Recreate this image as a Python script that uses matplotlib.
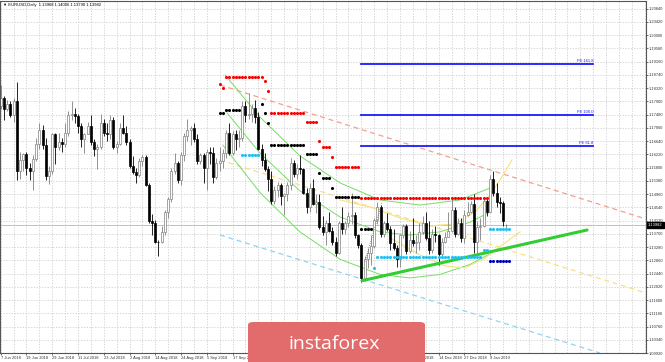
import matplotlib
matplotlib.use('Agg')
import matplotlib.pyplot as plt
from matplotlib.patches import FancyBboxPatch

# EURUSD daily bars, 7 Jun 2018 .. 16 Jan 2019
opens = [1.1775, 1.1800, 1.1767, 1.1780, 1.1745, 1.1790, 1.1569, 1.1605, 1.1623, 1.1580, 1.1570, 1.1606, 1.1654, 1.1700, 1.1650, 1.1553, 1.1570,
         1.1685, 1.1645, 1.1660, 1.1655, 1.1690, 1.1745, 1.1750, 1.1743, 1.1710, 1.1670, 1.1685, 1.1713, 1.1660, 1.1640, 1.1645, 1.1720, 1.1690, 1.1685, 1.1730, 1.1645, 1.1655, 1.1705,
         1.1690, 1.1660, 1.1585, 1.1565, 1.1555, 1.1600, 1.1612, 1.1525, 1.1410, 1.1405, 1.1345, 1.1343, 1.1375, 1.1440, 1.1480, 1.1570, 1.1595, 1.1540, 1.1620, 1.1680, 1.1700, 1.1705, 1.1670,
         1.1600, 1.1620, 1.1580, 1.1630, 1.1625, 1.1550, 1.1595, 1.1600, 1.1625, 1.1690, 1.1625, 1.1685, 1.1670, 1.1675, 1.1775, 1.1745, 1.1750, 1.1770, 1.1740, 1.1640,
         1.1605, 1.1575, 1.1545, 1.1475, 1.1510, 1.1525, 1.1490, 1.1495, 1.1525, 1.1595, 1.1560, 1.1580, 1.1575, 1.1500, 1.1455, 1.1515, 1.1465, 1.1470, 1.1390, 1.1375, 1.1405, 1.1380, 1.1345,
         1.1310, 1.1405, 1.1385, 1.1405, 1.1425, 1.1430, 1.1365, 1.1335, 1.1230, 1.1290, 1.1310, 1.1330, 1.1415, 1.1455, 1.1370, 1.1405, 1.1385, 1.1340, 1.1325, 1.1290, 1.1365, 1.1395,
         1.1315, 1.1350, 1.1340, 1.1345, 1.1375, 1.1405, 1.1355, 1.1320, 1.1370, 1.1365, 1.1305, 1.1345, 1.1360, 1.1380, 1.1445, 1.1370, 1.1405, 1.1355, 1.1430, 1.1440,
         1.1465, 1.1345, 1.1390, 1.1395, 1.1475, 1.1440, 1.1545, 1.1500, 1.1470, 1.1468, 1.13968]
highs = [1.1840, 1.1807, 1.1795, 1.1790, 1.1800, 1.1852, 1.1628, 1.1625, 1.1628, 1.1595, 1.1620, 1.1675, 1.1720, 1.1715, 1.1672, 1.1585, 1.1690,
         1.1690, 1.1690, 1.1675, 1.1720, 1.1760, 1.1790, 1.1770, 1.1750, 1.1720, 1.1690, 1.1725, 1.1745, 1.1670, 1.1655, 1.1750, 1.1735, 1.1720, 1.1745, 1.1740, 1.1665, 1.1720, 1.1746,
         1.1710, 1.1670, 1.1615, 1.1580, 1.1610, 1.1620, 1.1620, 1.1530, 1.1432, 1.1415, 1.1350, 1.1395, 1.1445, 1.1485, 1.1580, 1.1625, 1.1600, 1.1630, 1.1690, 1.1735, 1.1710, 1.1720, 1.1685,
         1.1625, 1.1625, 1.1640, 1.1645, 1.1645, 1.1610, 1.1645, 1.1640, 1.1700, 1.1720, 1.1695, 1.1700, 1.1700, 1.1790, 1.1790, 1.1815, 1.1780, 1.1795, 1.1755, 1.1655,
         1.1625, 1.1585, 1.1570, 1.1520, 1.1535, 1.1530, 1.1500, 1.1535, 1.1610, 1.1605, 1.1590, 1.1620, 1.1580, 1.1515, 1.1530, 1.1545, 1.1495, 1.1495, 1.1425, 1.1415, 1.1440, 1.1390, 1.1360,
         1.1410, 1.1455, 1.1410, 1.1440, 1.1500, 1.1440, 1.1370, 1.1340, 1.1300, 1.1325, 1.1365, 1.1420, 1.1472, 1.1460, 1.1410, 1.1435, 1.1395, 1.1385, 1.1335, 1.1370, 1.1400, 1.1400,
         1.1380, 1.1420, 1.1365, 1.1405, 1.1425, 1.1440, 1.1410, 1.1385, 1.1395, 1.1370, 1.1355, 1.1375, 1.1440, 1.1485, 1.1455, 1.1420, 1.1420, 1.1445, 1.1470, 1.1475,
         1.1495, 1.1410, 1.1420, 1.1485, 1.1485, 1.1555, 1.1570, 1.1530, 1.1485, 1.1475, 1.14006]
lows = [1.1765, 1.1730, 1.1760, 1.1740, 1.1725, 1.1541, 1.1542, 1.1570, 1.1555, 1.1540, 1.1508, 1.1600, 1.1640, 1.1640, 1.1540, 1.1527, 1.1560,
        1.1591, 1.1635, 1.1630, 1.1645, 1.1680, 1.1730, 1.1720, 1.1690, 1.1645, 1.1625, 1.1685, 1.1650, 1.1615, 1.1575, 1.1640, 1.1680, 1.1665, 1.1670, 1.1640, 1.1625, 1.1650, 1.1685,
        1.1650, 1.1580, 1.1560, 1.1530, 1.1550, 1.1585, 1.1520, 1.1405, 1.1365, 1.1340, 1.1301, 1.1340, 1.1365, 1.1420, 1.1470, 1.1560, 1.1530, 1.1525, 1.1600, 1.1665, 1.1650, 1.1660, 1.1590,
        1.1590, 1.1530, 1.1510, 1.1590, 1.1530, 1.1545, 1.1570, 1.1580, 1.1610, 1.1620, 1.1620, 1.1635, 1.1645, 1.1665, 1.1725, 1.1735, 1.1725, 1.1720, 1.1635, 1.1585,
        1.1570, 1.1505, 1.1465, 1.1465, 1.1485, 1.1460, 1.1430, 1.1475, 1.1510, 1.1550, 1.1545, 1.1560, 1.1495, 1.1435, 1.1440, 1.1460, 1.1435, 1.1385, 1.1365, 1.1335, 1.1375, 1.1335, 1.1300,
        1.1305, 1.1370, 1.1370, 1.1390, 1.1400, 1.1355, 1.1325, 1.1216, 1.1220, 1.1260, 1.1270, 1.1325, 1.1400, 1.1360, 1.1360, 1.1380, 1.1320, 1.1320, 1.1265, 1.1265, 1.1355, 1.1305,
        1.1310, 1.1330, 1.1310, 1.1320, 1.1370, 1.1350, 1.1305, 1.1310, 1.1345, 1.1270, 1.1300, 1.1340, 1.1360, 1.1375, 1.1360, 1.1365, 1.1345, 1.1340, 1.1425, 1.1435,
        1.1310, 1.1310, 1.1350, 1.1390, 1.1425, 1.1440, 1.1490, 1.1455, 1.1435, 1.1395, 1.13790]
closes = [1.1800, 1.1767, 1.1780, 1.1745, 1.1790, 1.1569, 1.1605, 1.1623, 1.1580, 1.1570, 1.1606, 1.1654, 1.1700, 1.1650, 1.1553, 1.1570, 1.1685,
          1.1645, 1.1660, 1.1655, 1.1690, 1.1745, 1.1750, 1.1743, 1.1710, 1.1670, 1.1685, 1.1713, 1.1660, 1.1640, 1.1645, 1.1720, 1.1690, 1.1685, 1.1730, 1.1645, 1.1655, 1.1705, 1.1690,
          1.1660, 1.1585, 1.1565, 1.1555, 1.1600, 1.1612, 1.1525, 1.1410, 1.1405, 1.1345, 1.1343, 1.1375, 1.1440, 1.1480, 1.1570, 1.1595, 1.1540, 1.1620, 1.1680, 1.1700, 1.1705, 1.1670, 1.1600,
          1.1620, 1.1580, 1.1630, 1.1625, 1.1550, 1.1595, 1.1600, 1.1625, 1.1690, 1.1625, 1.1685, 1.1670, 1.1675, 1.1775, 1.1745, 1.1750, 1.1770, 1.1740, 1.1640, 1.1605,
          1.1575, 1.1545, 1.1475, 1.1510, 1.1525, 1.1490, 1.1495, 1.1525, 1.1595, 1.1560, 1.1580, 1.1575, 1.1500, 1.1455, 1.1515, 1.1465, 1.1470, 1.1390, 1.1375, 1.1405, 1.1380, 1.1345, 1.1310,
          1.1405, 1.1385, 1.1405, 1.1425, 1.1430, 1.1365, 1.1335, 1.1230, 1.1290, 1.1310, 1.1330, 1.1415, 1.1455, 1.1370, 1.1405, 1.1385, 1.1340, 1.1325, 1.1290, 1.1365, 1.1395, 1.1315,
          1.1350, 1.1340, 1.1345, 1.1375, 1.1405, 1.1355, 1.1320, 1.1370, 1.1365, 1.1305, 1.1345, 1.1360, 1.1380, 1.1445, 1.1370, 1.1405, 1.1355, 1.1430, 1.1440, 1.1465,
          1.1345, 1.1390, 1.1395, 1.1475, 1.1440, 1.1545, 1.1500, 1.1470, 1.1468, 1.1410, 1.13982]

date_labels = ['7 Jun 2018', '19 Jun 2018', '29 Jun 2018', '11 Jul 2018', '23 Jul 2018', '2 Aug 2018',
               '14 Aug 2018', '24 Aug 2018', '5 Sep 2018', '17 Sep 2018', '27 Sep 2018', '9 Oct 2018',
               '19 Oct 2018', '31 Oct 2018', '12 Nov 2018', '22 Nov 2018', '4 Dec 2018', '14 Dec 2018',
               '27 Dec 2018', '9 Jan 2019']
price_ticks = [1.0992, 1.1034, 1.1076, 1.1118, 1.1160, 1.1202, 1.1244, 1.1286, 1.1328, 1.1370, 1.1412,
               1.1454, 1.1496, 1.1538, 1.1580, 1.1622, 1.1664, 1.1706, 1.1748, 1.1790, 1.1832, 1.1874,
               1.1916, 1.1958, 1.2000, 1.2042, 1.2084]

# level dots: (first bar, last bar, price)
red_dots = [(68, 68, 1.1845), (69, 69, 1.1833), (70, 81, 1.1868), (82, 82, 1.1855), (83, 83, 1.1823),
            (84, 94, 1.1754), (95, 98, 1.1725), (99, 99, 1.1665), (100, 102, 1.1645), (103, 103, 1.1614),
            (104, 111, 1.1583), (112, 151, 1.1484)]
black_dots = [(68, 69, 1.1754), (70, 74, 1.1762), (81, 81, 1.1781), (82, 82, 1.1754), (83, 83, 1.1722),
              (84, 94, 1.1651), (95, 98, 1.1623), (99, 99, 1.1564), (100, 102, 1.1547), (103, 103, 1.1516),
              (104, 111, 1.1486), (112, 115, 1.1385)]
cyan_dots = [(75, 80, 1.1620), (116, 116, 1.1262), (117, 149, 1.1296), (150, 151, 1.1319), (152, 158, 1.1385)]
navy_dots = [(152, 158, 1.1284)]

# fibonacci expansion levels
fib_names = ['FE 161.8', 'FE 100.0', 'FE 61.8']
fib_prices = [1.1908, 1.1747, 1.1648]
fib_x = [112, 184]

# channel lines (bar, price)
channel_top = [(68.1, 1.18416), (200.4, 1.14168)]
channel_mid = [(68.1, 1.16038), (200.4, 1.11822)]
channel_low = [(68.1, 1.13661), (186.1, 1.0992)]
support_line = [(112.2, 1.12212), (182.1, 1.13819)]

green_arc1 = [(69.7, 1.1873), (80.5, 1.1740), (92.9, 1.1617), (105.4, 1.1531), (117.8, 1.1477), (130.2, 1.1461), (142.6, 1.1477), (152.0, 1.1515)]
green_arc2 = [(70.3, 1.1753), (80.5, 1.1626), (92.9, 1.1506), (105.4, 1.1423), (117.8, 1.1376), (127.1, 1.1366), (136.4, 1.1376), (145.8, 1.1407), (152.0, 1.1439)]
green_arc3 = [(69.0, 1.1651), (80.5, 1.1501), (92.9, 1.1376), (105.4, 1.1289), (117.8, 1.1241), (127.1, 1.1230), (136.4, 1.1241), (145.8, 1.1273), (152.0, 1.1307)]
yellow_arc1 = [(105.4, 1.1477), (114.7, 1.1455), (124.0, 1.1420), (133.3, 1.1395), (141.1, 1.1401), (147.3, 1.1439), (152.0, 1.1493), (156.0, 1.1556), (158.8, 1.1604)]
yellow_arc2 = [(120.9, 1.1357), (130.2, 1.1303), (138.0, 1.1268), (144.2, 1.1262), (150.4, 1.1293), (156.6, 1.1341), (161.3, 1.1376)]
red_trend = [(113.1, 1.1281), (118.4, 1.1468)]

plt.rcParams['font.family'] = ['Liberation Sans', 'DejaVu Sans']

fig = plt.figure(figsize=(6.65, 3.62), dpi=100)
ax = fig.add_axes([0.0, 9 / 362, 646 / 665, 352 / 362])
ax.set_xlim(-0.22, 200.4)
ax.set_ylim(1.0992, 1.21078)

# grid
for gx in range(0, 201, 4):
    ax.axvline(gx, color='#c8c8c8', lw=0.5, ls=(0, (2, 2)), zorder=0)
for gy in price_ticks:
    ax.axhline(gy, color='#c8c8c8', lw=0.5, ls=(0, (2, 2)), zorder=0)

# current price line
ax.axhline(closes[-1], color='#c0c0c0', lw=0.7, zorder=1)

# channel
for pts, col in [(channel_top, '#f4a08a'), (channel_mid, '#f7df86'), (channel_low, '#8fd3f4')]:
    ax.plot([p[0] for p in pts], [p[1] for p in pts], color=col, lw=0.9, ls=(0, (4, 3)), zorder=1)

for arc in [green_arc1, green_arc2, green_arc3]:
    ax.plot([p[0] for p in arc], [p[1] for p in arc], color='#77dd66', lw=0.7, zorder=1)
for arc in [yellow_arc1, yellow_arc2]:
    ax.plot([p[0] for p in arc], [p[1] for p in arc], color='#f5e27a', lw=0.8, zorder=1)

# candles
for i in range(len(closes)):
    o, h, l, c = opens[i], highs[i], lows[i], closes[i]
    if c >= o:
        ax.vlines(i, l, h, color='#808080', lw=0.6, zorder=2)
        ax.bar(i, c - o, bottom=o, width=0.62, facecolor='white', edgecolor='#808080', lw=0.5, zorder=2)
    else:
        ax.vlines(i, l, h, color='black', lw=0.6, zorder=2)
        ax.bar(i, o - c, bottom=c, width=0.62, facecolor='black', edgecolor='black', lw=0.5, zorder=2)

ax.plot([p[0] for p in red_trend], [p[1] for p in red_trend], color='#e04040', lw=0.6, ls=(0, (1, 1.5)), zorder=3)

# support line
ax.plot([p[0] for p in support_line], [p[1] for p in support_line], color='#33cc33', lw=2.2,
        solid_capstyle='round', zorder=4)

# fibonacci
for name, price in zip(fib_names, fib_prices):
    ax.plot(fib_x, [price, price], color='#1a1aff', lw=1.3, zorder=4)
    ax.text(fib_x[1], price + 0.0004, name, color='#1a1aff', fontsize=3.0, ha='right', va='bottom', zorder=4)

# level dots
for segs, col in [(red_dots, '#ff0000'), (black_dots, 'black'), (cyan_dots, '#1ec0f5'), (navy_dots, '#0000c0')]:
    for a, b, price in segs:
        xs = list(range(a, b + 1))
        ax.scatter(xs, [price] * len(xs), s=5, color=col, lw=0, zorder=5)

# axes styling
ax.yaxis.tick_right()
ax.set_yticks(price_ticks)
ax.set_yticklabels([f'{v:.5f}' for v in price_ticks])
ax.set_xticks(range(0, 153, 8))
ax.set_xticklabels(date_labels, ha='left')
ax.tick_params(axis='both', labelsize=2.9, length=1.5, width=0.5, pad=0.8, colors='#333333')
for s in ax.spines.values():
    s.set_color('#555555')
    s.set_linewidth(0.8)

# last price tag
ax.text(1.003, closes[-1], f'{closes[-1]:.5f}', transform=ax.get_yaxis_transform(), fontsize=2.9,
        color='white', va='center', ha='left', clip_on=False, zorder=6,
        bbox=dict(facecolor='black', edgecolor='black', pad=0.7))

# title
fig.text(3 / 665, 1 - 5 / 362, '\u25bc EURUSD,Daily  1.13968 1.14006 1.13790 1.13982',
         fontsize=3.0, va='center', ha='left', color='black')

# watermark
logo = FancyBboxPatch((248 / 665, -0.05), 177 / 665, 0.05 + 40 / 362,
                      boxstyle='round,pad=0,rounding_size=0.008', transform=fig.transFigure,
                      facecolor='#e26b6b', edgecolor='none', zorder=10)
fig.patches.append(logo)
fig.text(334 / 665, 1 - 344 / 362, 'instaforex', color='white', fontsize=14, family='Open Sans',
         ha='center', va='center', zorder=11)

fig.savefig('out.png', dpi=100)
